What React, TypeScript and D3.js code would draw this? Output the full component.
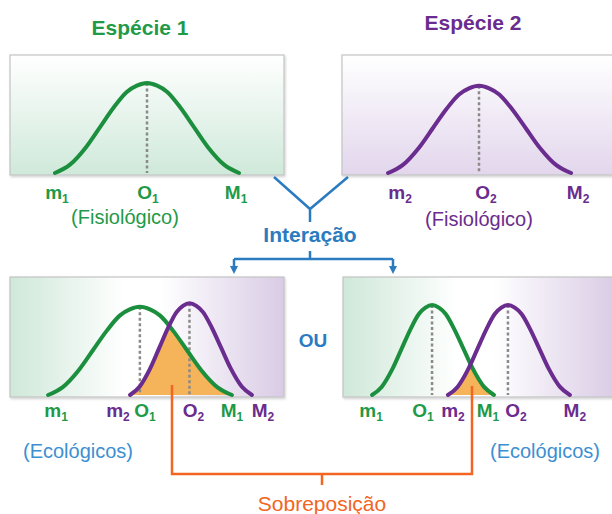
import * as d3 from "d3";

const W = 612;
const H = 514;

// texts
const titles = ["Espécie 1", "Espécie 2"];
const nicheKinds = ["(Fisiológico)", "(Ecológicos)"];
const interactionText = "Interação";
const orText = "OU";
const overlapText = "Sobreposição";
const pointLetters = ["m", "O", "M"];

// niche limits on a 0–100 environmental gradient: [mínimo m, ótimo O, máximo M]
const fisio1 = [16.4, 50, 83.6];
const fisio2 = [16.8, 50, 83.6];
const ecoA1 = [13.9, 47.4, 81.0];
const ecoA2 = [43.8, 65.5, 88.3];
const ecoB1 = [10.6, 32.5, 55.1];
const ecoB2 = [38.3, 60.2, 82.8];

// relative performance at the optimum
const fisioPeaks = [1, 0.97];
const ecoAPeaks = [0.98, 1.02];
const ecoBPeaks = [1, 1];

// bell profile: distance from O (share of half-width) and height (share of peak)
const profileOffset = [0, 0.11, 0.22, 0.36, 0.51, 0.66, 0.84, 1];
const profileHeight = [1, 0.97, 0.9, 0.73, 0.51, 0.29, 0.09, 0];

const GREEN = "#1c8f3e";
const GREEN_TXT = "#1f9a48";
const PURPLE = "#6a2c8e";
const BLUE = "#2a7bc0";
const BLUE_LIGHT = "#3d8fd1";
const ORANGE = "#f26522";
const FONT = "'Liberation Sans', Arial, sans-serif";

const PW = 274;
const PH = 120;

function bellPoints(lim: number[], peak: number) {
  const [m, o, M] = lim;
  const left = profileOffset
    .map((t, i) => [o - t * (o - m), profileHeight[i] * peak])
    .reverse();
  const right = profileOffset.slice(1).map((t, i) => [o + t * (M - o), profileHeight[i + 1] * peak]);
  return left.concat(right);
}

function Panel({ p }: { p: any }) {
  const x = d3.scaleLinear().domain([0, 100]).range([p.x, p.x + PW]);
  const base = p.y + PH - 2;
  const y = d3.scaleLinear().domain([0, 1]).range([base, base - 90]);
  const line = d3
    .line<number[]>()
    .x((d) => x(d[0]))
    .y((d) => y(d[1]))
    .curve(d3.curveMonotoneX);
  const area = d3
    .area<number[]>()
    .x((d) => x(d[0]))
    .y0(base)
    .y1((d) => y(d[1]))
    .curve(d3.curveMonotoneX);
  const colors = [GREEN, PURPLE];
  const txtColors = [GREEN_TXT, PURPLE];
  const pts = p.curves.map((c: any) => bellPoints(c.lim, c.peak));

  return (
    <g>
      <rect
        x={p.x}
        y={p.y}
        width={PW}
        height={PH}
        fill={p.fill}
        stroke="#c4c4c4"
        strokeWidth={1.2}
        filter="url(#shadow)"
      />
      {p.overlap && (
        <>
          <clipPath id={`clip-${p.key}`}>
            <path d={area(pts[1]) || ""} />
          </clipPath>
          <path d={area(pts[0]) || ""} fill="#f5b45a" clipPath={`url(#clip-${p.key})`} />
        </>
      )}
      {p.curves.map((c: any, i: number) => (
        <line
          key={`d${i}`}
          x1={x(c.lim[1])}
          x2={x(c.lim[1])}
          y1={y(c.peak)}
          y2={base}
          stroke="#8a8a8a"
          strokeWidth={2.5}
          strokeDasharray="3,2.5"
        />
      ))}
      {p.curves.map((c: any, i: number) => (
        <path
          key={`c${i}`}
          d={line(pts[i]) || ""}
          fill="none"
          stroke={colors[c.sp]}
          strokeWidth={4}
          strokeLinecap="round"
        />
      ))}
      {p.curves.map((c: any, i: number) =>
        c.lim.map((v: number, j: number) => (
          <text
            key={`l${i}-${j}`}
            x={x(v) + p.nudge[i][j]}
            y={p.labelY}
            textAnchor="middle"
            fontFamily={FONT}
            fontWeight="bold"
            fontSize={19}
            fill={txtColors[c.sp]}
          >
            {pointLetters[j]}
            <tspan fontSize={12} dy={4}>
              {c.sp + 1}
            </tspan>
          </text>
        ))
      )}
    </g>
  );
}

export default function App() {
  const panels = [
    {
      key: "tl",
      x: 10,
      y: 55,
      fill: "url(#gradGreen)",
      curves: [{ lim: fisio1, peak: fisioPeaks[0], sp: 0 }],
      nudge: [[2, 1, -3]],
      labelY: 199,
    },
    {
      key: "tr",
      x: 342,
      y: 55,
      fill: "url(#gradPurple)",
      curves: [{ lim: fisio2, peak: fisioPeaks[1], sp: 1 }],
      nudge: [[12, 7, 7]],
      labelY: 199,
    },
    {
      key: "bl",
      x: 10,
      y: 277,
      fill: "url(#gradMix)",
      curves: [
        { lim: ecoA1, peak: ecoAPeaks[0], sp: 0 },
        { lim: ecoA2, peak: ecoAPeaks[1], sp: 1 },
      ],
      nudge: [
        [8, 5, 0],
        [-12, 4, 11],
      ],
      labelY: 417,
      overlap: true,
    },
    {
      key: "br",
      x: 343,
      y: 277,
      fill: "url(#gradMix)",
      curves: [
        { lim: ecoB1, peak: ecoBPeaks[0], sp: 0 },
        { lim: ecoB2, peak: ecoBPeaks[1], sp: 1 },
      ],
      nudge: [
        [-1, -9, -6],
        [5, 8, 5],
      ],
      labelY: 417,
      overlap: true,
    },
  ];

  return (
    <svg
      width={W}
      height={H}
      viewBox={`0 0 ${W} ${H}`}
      style={{ position: "absolute", left: 0, top: 0, background: "#fff" }}
    >
      <defs>
        <linearGradient id="gradGreen" x1="0" y1="0" x2="0" y2="1">
          <stop offset="0%" stopColor="#ffffff" />
          <stop offset="100%" stopColor="#cfe9da" />
        </linearGradient>
        <linearGradient id="gradPurple" x1="0" y1="0" x2="0" y2="1">
          <stop offset="0%" stopColor="#ffffff" />
          <stop offset="100%" stopColor="#e2d6ec" />
        </linearGradient>
        <linearGradient id="gradMix" x1="0" y1="0" x2="1" y2="0">
          <stop offset="0%" stopColor="#cfe8d9" />
          <stop offset="42%" stopColor="#ffffff" />
          <stop offset="55%" stopColor="#ffffff" />
          <stop offset="100%" stopColor="#d9cbe5" />
        </linearGradient>
        <filter id="shadow" x="-5%" y="-5%" width="110%" height="115%">
          <feDropShadow dx="1" dy="1.5" stdDeviation="1" floodColor="#000" floodOpacity="0.18" />
        </filter>
      </defs>

      <text x={140} y={35} textAnchor="middle" fontFamily={FONT} fontWeight="bold" fontSize={21} fill={GREEN_TXT}>
        {titles[0]}
      </text>
      <text x={473} y={30} textAnchor="middle" fontFamily={FONT} fontWeight="bold" fontSize={21} fill={PURPLE}>
        {titles[1]}
      </text>

      {panels.map((p) => (
        <Panel key={p.key} p={p} />
      ))}

      <text x={125} y={224} textAnchor="middle" fontFamily={FONT} fontSize={20} fill={GREEN_TXT}>
        {nicheKinds[0]}
      </text>
      <text x={479} y={226} textAnchor="middle" fontFamily={FONT} fontSize={20} fill={PURPLE}>
        {nicheKinds[0]}
      </text>
      <text x={78} y={458} textAnchor="middle" fontFamily={FONT} fontSize={20} fill={BLUE_LIGHT}>
        {nicheKinds[1]}
      </text>
      <text x={545} y={458} textAnchor="middle" fontFamily={FONT} fontSize={20} fill={BLUE_LIGHT}>
        {nicheKinds[1]}
      </text>

      {/* interação connector */}
      <g fill="none" stroke={BLUE} strokeWidth={2.5}>
        <path d="M274,177 L310,209 L348,177 M310,209 V222" />
        <path d="M310,251 V259 M234,259 H393 M234,259 V267 M393,259 V267" />
      </g>
      <path d="M230,266 L238,266 L234,274 Z" fill={BLUE} />
      <path d="M389,266 L397,266 L393,274 Z" fill={BLUE} />
      <text x={310} y={242} textAnchor="middle" fontFamily={FONT} fontWeight="bold" fontSize={21} fill={BLUE}>
        {interactionText}
      </text>
      <text x={313} y={347} textAnchor="middle" fontFamily={FONT} fontWeight="bold" fontSize={19} fill={BLUE}>
        {orText}
      </text>

      {/* sobreposição connector */}
      <path
        d="M172,385 V474 H472 V386 M322,474 V485"
        fill="none"
        stroke={ORANGE}
        strokeWidth={2.5}
      />
      <text x={322} y={511} textAnchor="middle" fontFamily={FONT} fontSize={21} fill={ORANGE}>
        {overlapText}
      </text>
    </svg>
  );
}
